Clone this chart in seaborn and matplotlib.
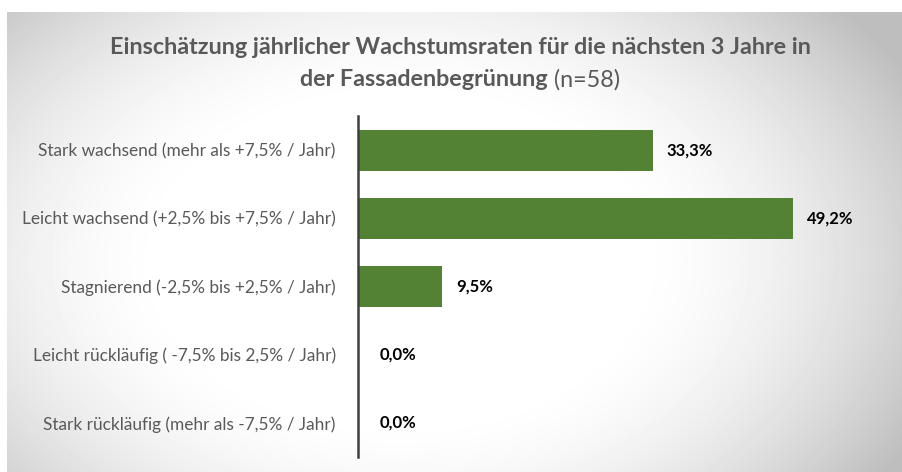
import numpy as np
import pandas as pd
import matplotlib
matplotlib.use("Agg")
import matplotlib.pyplot as plt
import seaborn as sns

# Daten
kategorien = [
    "Stark wachsend (mehr als +7,5% / Jahr)",
    "Leicht wachsend (+2,5% bis +7,5% / Jahr)",
    "Stagnierend (-2,5% bis +2,5% / Jahr)",
    "Leicht rückläufig ( -7,5% bis 2,5% / Jahr)",
    "Stark rückläufig (mehr als -7,5% / Jahr)",
]
anteile = [33.3, 49.2, 9.5, 0.0, 0.0]
titel_zeile1 = "Einschätzung jährlicher Wachstumsraten für die nächsten 3 Jahre in"
titel_fett = "der Fassadenbegrünung"
titel_normal = "(n=58)"

df = pd.DataFrame({"kategorie": kategorien, "anteil": anteile})

sns.set_theme(style="white")
plt.rcParams["font.family"] = ["Lato", "DejaVu Sans"]

W, H = 903, 472
fig = plt.figure(figsize=(W / 100, H / 100), dpi=100)

# Hintergrund: radialer Verlauf weiss -> grau
bg = fig.add_axes([0, 0, 1, 1], zorder=0)
yy, xx = np.mgrid[0:H, 0:W]
d = np.sqrt(((xx - 400) / 500.0) ** 2 + ((yy - 260) / 340.0) ** 2)
t = np.clip((d - 0.45) / 0.7, 0, 1) ** 1.7
grau = 1 - (1 - 190 / 255) * t
grau[(xx < 7) | (yy < 12)] = 1.0
bg.imshow(grau, cmap="gray", vmin=0, vmax=1, extent=[0, W, H, 0], aspect="auto",
          interpolation="bilinear")
bg.set_axis_off()

ax = fig.add_axes([358 / W, 15 / H, 522 / W, 341 / H], zorder=1)
ax.patch.set_alpha(0)
sns.barplot(data=df, y="kategorie", x="anteil", orient="h", color="#548235",
            width=0.6, saturation=1, linewidth=0, ax=ax)
ax.set_xlim(0, 59)
ax.set_ylim(4.5, -0.5)
ax.set_xlabel("")
ax.set_ylabel("")
ax.set_xticks([])
for s in ["top", "right", "bottom"]:
    ax.spines[s].set_visible(False)
ax.spines["left"].set_color("#3f3f3f")
ax.spines["left"].set_linewidth(1.8)
ax.tick_params(axis="y", length=0, pad=16, labelsize=12.4, labelcolor="#595959")

for i, v in enumerate(anteile):
    ax.text(v + (1.6 if v > 0 else 2.5), i, f"{v:.1f}%".replace(".", ","),
            va="center", ha="left", fontsize=12, fontweight="bold", color="black")

# Titel
cx = 460 / W
fs_titel = 16.8
fig.text(cx, 1 - 48 / H, titel_zeile1, ha="center", va="center", fontsize=fs_titel,
         fontweight="bold", color="#595959")
t1 = fig.text(0, 1 - 80 / H, titel_fett, ha="left", va="center", fontsize=fs_titel,
              fontweight="bold", color="#595959")
t2 = fig.text(0, 1 - 80 / H, titel_normal, ha="left", va="center", fontsize=fs_titel,
              color="#595959")
r = fig.canvas.get_renderer()
w1 = t1.get_window_extent(r).width / W
w2 = t2.get_window_extent(r).width / W
gap = 7 / W
x0 = cx - (w1 + gap + w2) / 2
t1.set_x(x0)
t2.set_x(x0 + w1 + gap)

fig.savefig("out.png", dpi=100)
